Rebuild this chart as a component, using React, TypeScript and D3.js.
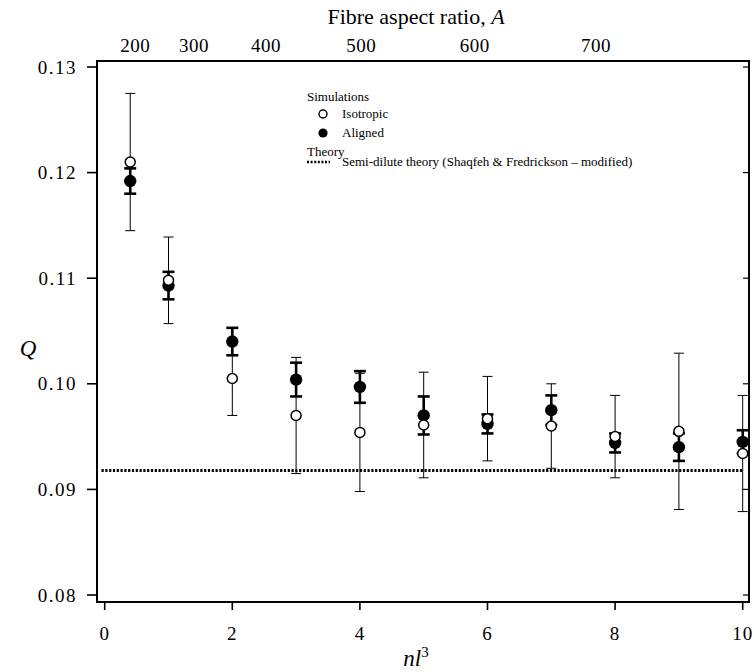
import React from "react";
import * as d3 from "d3";

const nl3 = [0.4, 1, 2, 3, 4, 5, 6, 7, 8, 9, 10];
const isoQ = [0.121, 0.1098, 0.1005, 0.097, 0.0954, 0.0961, 0.0967, 0.096, 0.095, 0.0955, 0.0934];
const isoErr = [0.0065, 0.0041, 0.0035, 0.0055, 0.0056, 0.005, 0.004, 0.004, 0.0039, 0.0074, 0.0055];
const aliQ = [0.1192, 0.1093, 0.104, 0.1004, 0.0997, 0.097, 0.0962, 0.0975, 0.0944, 0.094, 0.0945];
const aliErr = [0.0012, 0.0013, 0.0013, 0.0016, 0.0015, 0.0018, 0.0009, 0.0014, 0.0009, 0.0013, 0.0011];
const theoryQ = 0.0918;
const theoryRange = [-0.05, 10];
const yTicks = [0.08, 0.09, 0.1, 0.11, 0.12, 0.13];
const xTicks = [0, 2, 4, 6, 8, 10];
const topTickLabels = ["200", "300", "400", "500", "600", "700"];
const topTickPos = [0.48, 1.4, 2.53, 4.02, 5.8, 7.7];

const FONT = "'Liberation Serif', 'DejaVu Serif', serif";

export default function App() {
  const W = 754, H = 672;
  const x = d3.scaleLinear().domain([0, 10]).range([104.7, 742.7]);
  const y = d3.scaleLinear().domain([0.08, 0.13]).range([595, 67]);
  const frame = { l: 97, r: 749, t: 61, b: 602 };

  const pts = nl3.map((v, i) => ({ x: v, iq: isoQ[i], ie: isoErr[i], aq: aliQ[i], ae: aliErr[i] }));

  const line = d3.line<[number, number]>().x(d => x(d[0])).y(d => y(d[1]));

  return (
    <svg width={W} height={H} style={{ position: "absolute", left: 0, top: 0, background: "#fff" }} fontFamily={FONT}>
      <rect x={0} y={0} width={W} height={H} fill="#fff" />
      {/* frame */}
      <rect x={frame.l} y={frame.t} width={frame.r - frame.l} height={frame.b - frame.t} fill="none" stroke="#000" strokeWidth={2} />
      {/* left ticks */}
      {yTicks.map(t => (
        <g key={"yl" + t}>
          <line x1={frame.l - 10} x2={frame.l} y1={y(t)} y2={y(t)} stroke="#000" strokeWidth={1.6} />
          <line x1={frame.r - 6} x2={frame.r} y1={y(t)} y2={y(t)} stroke="#000" strokeWidth={1.2} />
          <text x={frame.l - 20} y={y(t)} dy="0.35em" textAnchor="end" fontSize={19} letterSpacing={1.5}>{t.toFixed(2)}</text>
        </g>
      ))}
      {/* bottom ticks */}
      {xTicks.map(t => (
        <g key={"xb" + t}>
          <line x1={x(t)} x2={x(t)} y1={frame.b} y2={frame.b + 8} stroke="#000" strokeWidth={1.6} />
          <text x={x(t)} y={640} textAnchor="middle" fontSize={19} letterSpacing={1}>{t}</text>
        </g>
      ))}
      {/* top labels */}
      {topTickLabels.map((l, i) => (
        <text key={"xt" + l} x={x(topTickPos[i])} y={52} textAnchor="middle" fontSize={19} letterSpacing={0.5}>{l}</text>
      ))}
      <text x={416} y={24} textAnchor="middle" fontSize={22}>
        Fibre aspect ratio, <tspan fontStyle="italic">A</tspan>
      </text>
      <text x={28} y={356} textAnchor="middle" fontSize={23} fontStyle="italic">Q</text>
      <text x={416} y={666} textAnchor="middle" fontSize={23} fontStyle="italic">
        nl<tspan fontSize={15} dy={-9} fontStyle="normal">3</tspan>
      </text>

      {/* theory */}
      <path d={line([[theoryRange[0], theoryQ], [theoryRange[1], theoryQ]]) || ""} stroke="#000" strokeWidth={3} strokeDasharray="2.2,1.6" fill="none" />

      {/* isotropic error bars */}
      {pts.map((p, i) => (
        <g key={"ie" + i} stroke="#000" strokeWidth={1}>
          <line x1={x(p.x)} x2={x(p.x)} y1={y(p.iq + p.ie)} y2={y(p.iq - p.ie)} />
          <line x1={x(p.x) - 5} x2={x(p.x) + 5} y1={y(p.iq + p.ie)} y2={y(p.iq + p.ie)} />
          <line x1={x(p.x) - 5} x2={x(p.x) + 5} y1={y(p.iq - p.ie)} y2={y(p.iq - p.ie)} />
        </g>
      ))}
      {/* aligned error bars */}
      {pts.map((p, i) => (
        <g key={"ae" + i} stroke="#000" strokeWidth={2.6}>
          <line x1={x(p.x)} x2={x(p.x)} y1={y(p.aq + p.ae)} y2={y(p.aq - p.ae)} />
          <line x1={x(p.x) - 6} x2={x(p.x) + 6} y1={y(p.aq + p.ae)} y2={y(p.aq + p.ae)} />
          <line x1={x(p.x) - 6} x2={x(p.x) + 6} y1={y(p.aq - p.ae)} y2={y(p.aq - p.ae)} />
        </g>
      ))}
      {/* aligned markers */}
      {pts.map((p, i) => (
        <circle key={"am" + i} cx={x(p.x)} cy={y(p.aq)} r={6.2} fill="#000" />
      ))}
      {/* isotropic markers */}
      {pts.map((p, i) => (
        <circle key={"im" + i} cx={x(p.x)} cy={y(p.iq)} r={5} fill="#fff" stroke="#000" strokeWidth={1.5} />
      ))}

      {/* legend */}
      <g fontSize={13}>
        <text x={307} y={101}>Simulations</text>
        <circle cx={323} cy={114} r={4} fill="#fff" stroke="#000" strokeWidth={1.4} />
        <text x={342} y={118}>Isotropic</text>
        <circle cx={323} cy={133} r={4.6} fill="#000" />
        <text x={342} y={137}>Aligned</text>
        <text x={307} y={156}>Theory</text>
        <line x1={307} x2={330} y1={162} y2={162} stroke="#000" strokeWidth={2.5} strokeDasharray="2,1.6" />
        <text x={342} y={166}>Semi-dilute theory (Shaqfeh &amp; Fredrickson – modified)</text>
      </g>
    </svg>
  );
}
